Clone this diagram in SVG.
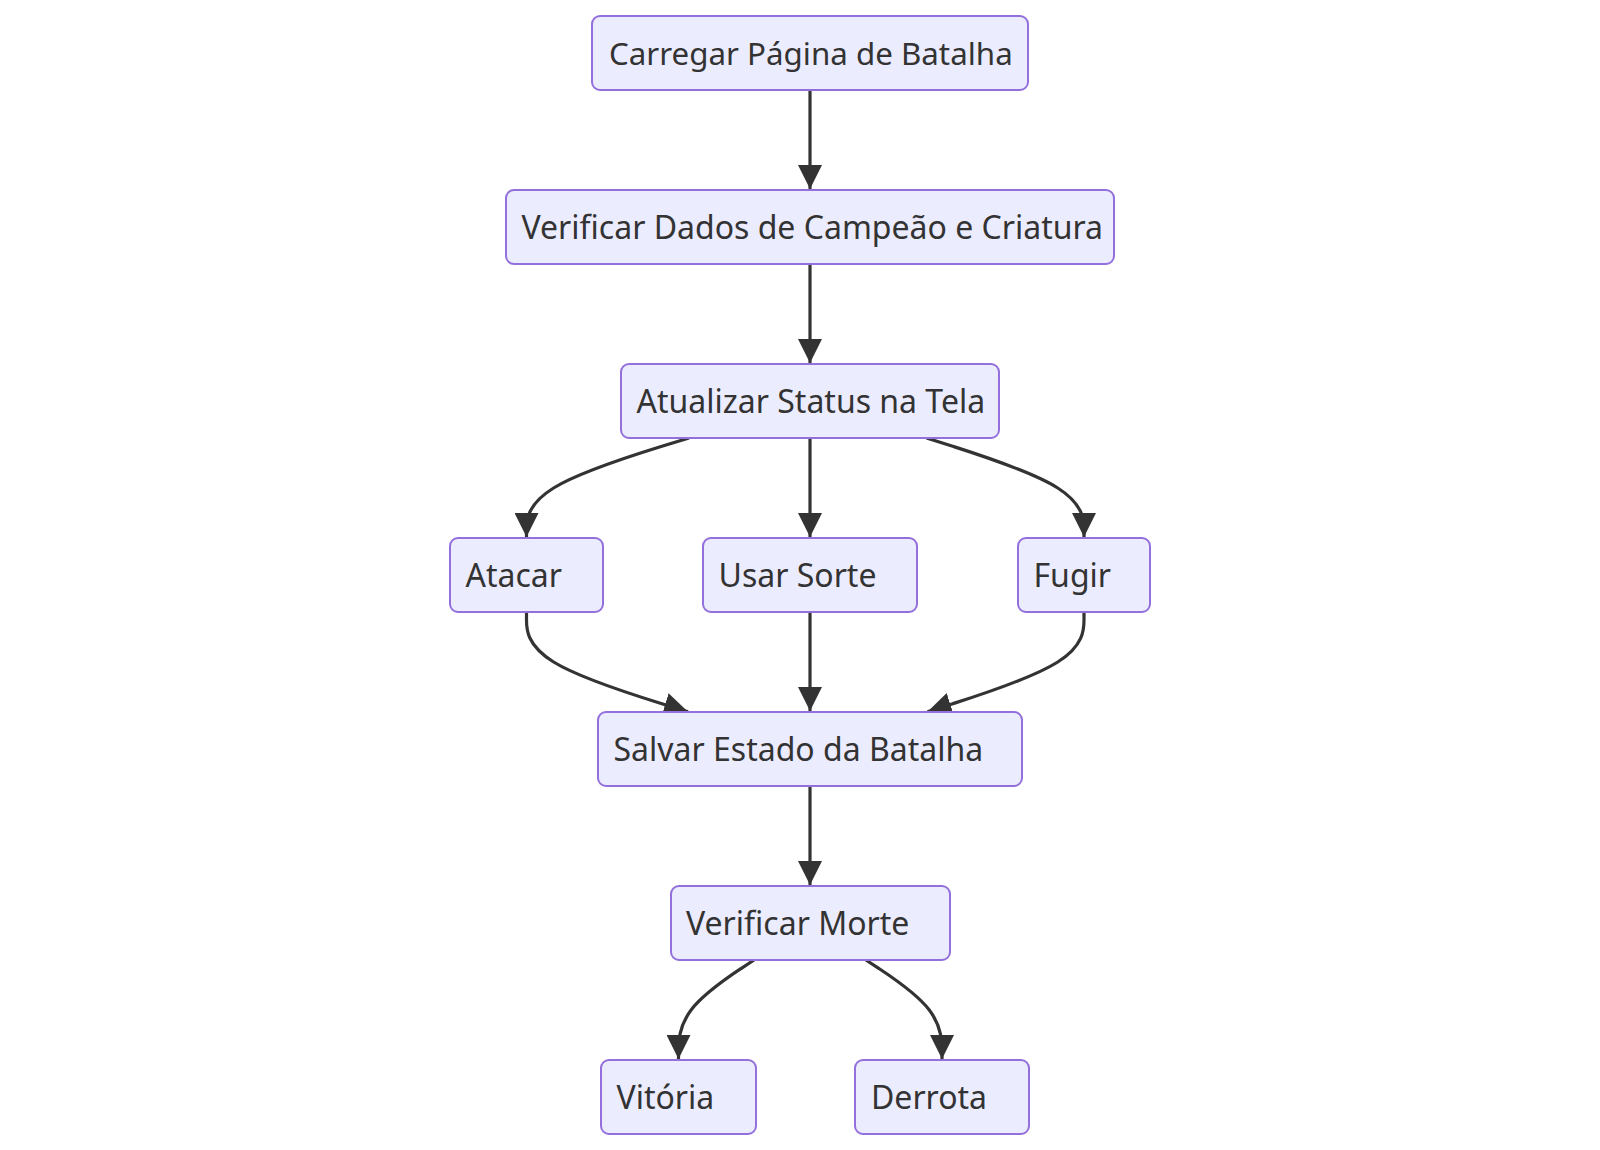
<svg xmlns="http://www.w3.org/2000/svg" width="1600" height="1150" viewBox="0 0 1600 1150">
<style>
.node rect{fill:#ECECFF;stroke:#9370DB;stroke-width:2}
.node text{font-family:"Noto Sans","Open Sans","DejaVu Sans",sans-serif;font-size:32px;fill:#333333}
.edge{fill:none;stroke:#333333;stroke-width:3.2;marker-end:url(#arrow)}
</style>
<defs>
<marker id="arrow" viewBox="0 0 10 10" refX="10" refY="5" markerUnits="userSpaceOnUse" markerWidth="24" markerHeight="24" orient="auto">
<path d="M0,0 L10,5 L0,10 z" fill="#333333"/>
</marker>
</defs>
<rect width="1600" height="1150" fill="#ffffff"/>
<g id="connectors">
<path class="edge" d="M810,90 L810,189"/>
<path class="edge" d="M810,264 L810,363"/>
<path class="edge" d="M810,438 L810,537"/>
<path class="edge" d="M810,612 L810,711"/>
<path class="edge" d="M810,786 L810,885"/>
<path class="edge" d="M689,438 L661.9,446.3 C634.8,454.7 580.7,471.3 553.6,488 C526.5,504.7 526.5,521.3 526.5,529.7 L526.5,537"/>
<path class="edge" d="M926.5,438 L952.75,446.3 C979,454.7 1031.5,471.3 1057.75,488 C1084,504.7 1084,521.3 1084,529.7 L1084,537"/>
<path class="edge" d="M526.5,612 L526.5,620.3 C526.5,628.7 526.5,645.3 553.6,662 C580.7,678.7 634.8,695.3 661.9,703.7 L688,711.7"/>
<path class="edge" d="M1084,612 L1084,620.3 C1084,628.7 1084,645.3 1057.75,662 C1031.5,678.7 979,695.3 952.75,703.7 L927.5,711.7"/>
<path class="edge" d="M754,960 L741.4,968.3 C728.8,976.7 703.7,993.3 691.1,1010 C678.5,1026.7 678.5,1043.3 678.5,1051.7 L678.5,1059"/>
<path class="edge" d="M866,960 L878.7,968.3 C891.3,976.7 916.7,993.3 929.3,1010 C942,1026.7 942,1043.3 942,1051.7 L942,1059"/>
</g>
<g id="n1" class="node"><rect x="592" y="16" width="436" height="74" rx="8" ry="8"/><text x="609" y="65" style="font-size:31.3px">Carregar Página de Batalha</text></g>
<g id="n2" class="node"><rect x="506" y="190" width="608" height="74" rx="8" ry="8"/><text x="521.5" y="239">Verificar Dados de Campeão e Criatura</text></g>
<g id="n3" class="node"><rect x="621" y="364" width="378" height="74" rx="8" ry="8"/><text x="636.5" y="413">Atualizar Status na Tela</text></g>
<g id="n4" class="node"><rect x="450" y="538" width="153" height="74" rx="8" ry="8"/><text x="465.5" y="587">Atacar</text></g>
<g id="n5" class="node"><rect x="703" y="538" width="214" height="74" rx="8" ry="8"/><text x="718.5" y="587">Usar Sorte</text></g>
<g id="n6" class="node"><rect x="1018" y="538" width="132" height="74" rx="8" ry="8"/><text x="1033.5" y="587">Fugir</text></g>
<g id="n7" class="node"><rect x="598" y="712" width="424" height="74" rx="8" ry="8"/><text x="613.5" y="761">Salvar Estado da Batalha</text></g>
<g id="n8" class="node"><rect x="671" y="886" width="279" height="74" rx="8" ry="8"/><text x="686" y="935">Verificar Morte</text></g>
<g id="n9" class="node"><rect x="601" y="1060" width="155" height="74" rx="8" ry="8"/><text x="616.5" y="1109">Vitória</text></g>
<g id="n10" class="node"><rect x="855" y="1060" width="174" height="74" rx="8" ry="8"/><text x="871" y="1109">Derrota</text></g>
</svg>
